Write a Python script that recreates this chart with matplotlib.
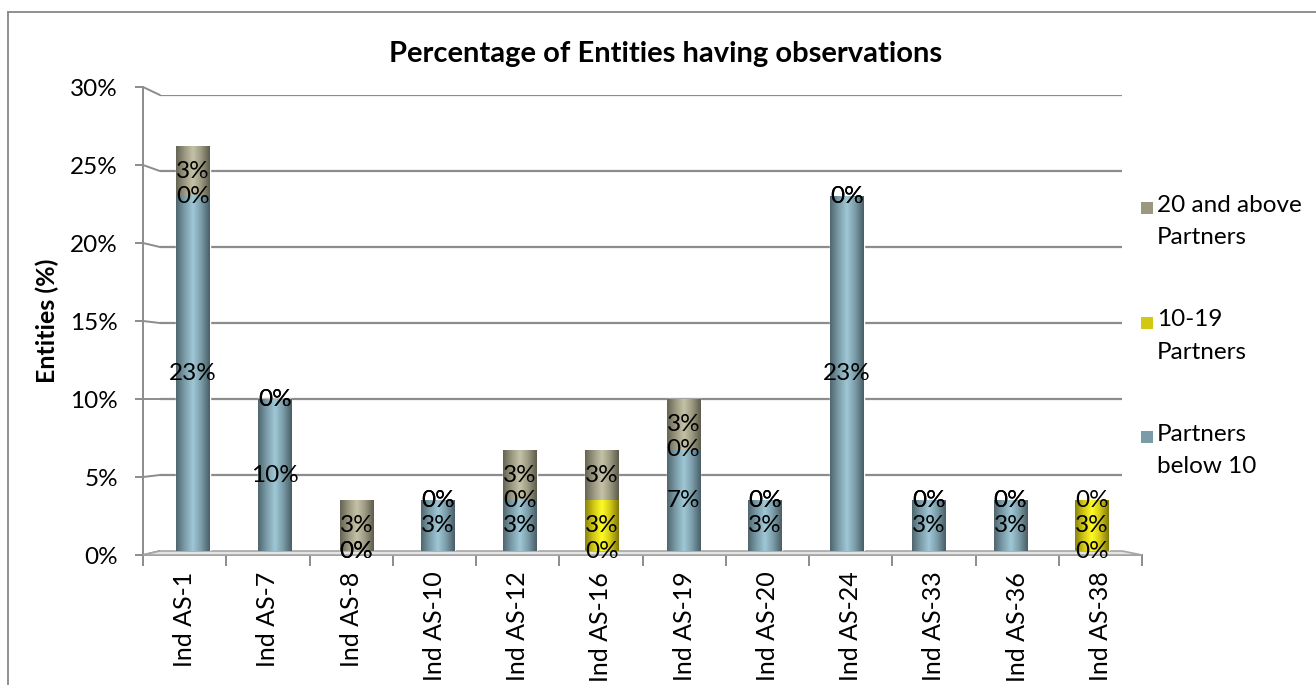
import numpy as np
import matplotlib.pyplot as plt
from matplotlib.colors import LinearSegmentedColormap, to_rgb
from matplotlib.patches import Polygon, Rectangle, ConnectionPatch
from matplotlib.lines import Line2D

plt.rcParams["font.family"] = ["Lato", "DejaVu Sans"]

standards = ["Ind AS-1", "Ind AS-7", "Ind AS-8", "Ind AS-10", "Ind AS-12", "Ind AS-16",
             "Ind AS-19", "Ind AS-20", "Ind AS-24", "Ind AS-33", "Ind AS-36", "Ind AS-38"]
# share of entities (%) with observations, split by firm size
below_10 = [23.33, 10.0, 0.0, 3.33, 3.33, 0.0, 6.67, 3.33, 23.33, 3.33, 3.33, 0.0]
p10_19 = [0.0, 0.0, 0.0, 0.0, 0.0, 3.33, 0.0, 0.0, 0.0, 0.0, 0.0, 3.33]
p20_up = [3.33, 0.0, 3.33, 0.0, 3.33, 3.33, 3.33, 0.0, 0.0, 0.0, 0.0, 0.0]
series = [("Partners\nbelow 10", below_10, "#7a9ca8"),
          ("10-19\nPartners", p10_19, "#d2c814"),
          ("20 and above\nPartners", p20_up, "#9a9880")]
yticks = [0, 5, 10, 15, 20, 25, 30]

FS = 17.5
W, H = 1316, 685
fig = plt.figure(figsize=(W / 100, H / 100), dpi=100)


def box(x0, y0, x1, y1):
    # pixel box (top-left origin) -> figure fraction rect
    return [x0 / W, 1 - y1 / H, (x1 - x0) / W, (y1 - y0) / H]


# front axis (tick labels, floor edge, category ticks)
front = fig.add_axes(box(143, 87, 1142, 555), zorder=1)
front.set_xlim(-0.5, len(standards) - 0.5)
front.set_ylim(0, 30)
front.patch.set_visible(False)
for s in ["top", "right"]:
    front.spines[s].set_visible(False)
for s in ["left", "bottom"]:
    front.spines[s].set_color("#8c8c8c")
    front.spines[s].set_linewidth(1.4)
front.set_yticks(yticks)
front.set_yticklabels([f"{v}%" for v in yticks], fontsize=FS)
front.tick_params(axis="y", length=6, width=1.4, color="#8c8c8c", pad=12)
front.set_xticks(np.arange(len(standards) + 1) - 0.5)
front.set_xticklabels([])
front.set_xticks(np.arange(len(standards)), minor=True)
front.set_xticklabels(standards, minor=True, rotation=90, fontsize=18)
front.tick_params(axis="x", which="major", length=8, width=1.4, color="#8c8c8c", direction="out")
front.tick_params(axis="x", which="minor", length=0, pad=12)
front.set_ylabel("Entities (%)", fontsize=18, fontweight="bold", labelpad=8)

# back wall with gridlines and the bars
ax = fig.add_axes(box(152, 95, 1133, 551), zorder=2)
ax.set_xlim(-0.5, len(standards) - 0.5)
ax.set_ylim(0, 30)
ax.axis("off")
gx0, gx1 = 0.008, 0.989
ax.hlines(yticks[1:], gx0, gx1, transform=ax.get_yaxis_transform(),
          color="#8c8c8c", lw=1.6, zorder=0)

# floor
corners = [front.transData.transform((-0.5, 0)), front.transData.transform((len(standards) - 0.5, 0)),
           ax.get_yaxis_transform().transform((gx1, 0)), ax.get_yaxis_transform().transform((gx0, 0))]
floor = Polygon(fig.transFigure.inverted().transform(corners), closed=True,
                transform=fig.transFigure, facecolor="#e4e4e4", edgecolor="#a6a6a6", lw=1.2, zorder=1.5)
fig.add_artist(floor)

# diagonal links from the front axis ticks to the back gridlines
for v in yticks:
    con = ConnectionPatch(xyA=(0, v), coordsA=front.get_yaxis_transform(),
                          xyB=(gx0, v), coordsB=ax.get_yaxis_transform(),
                          color="#8c8c8c", lw=1.4)
    fig.add_artist(con)


def cylinder_cmap(color):
    c = np.array(to_rgb(color))
    dark = c * 0.66
    light = np.clip(c * 1.18 + 0.06, 0, 1)
    return LinearSegmentedColormap.from_list("cyl", [dark, c, light, c, dark * 0.92])


x = np.arange(len(standards))
width = 0.41
bottom = np.zeros(len(standards))
grad = np.linspace(0, 1, 64).reshape(1, -1)
for name, vals, color in series:
    vals = np.array(vals)
    bars = ax.bar(x, vals, width, bottom=bottom, color=color, edgecolor="white", lw=1.0, zorder=3)
    cmap = cylinder_cmap(color)
    for rect in bars:
        if rect.get_height() <= 0:
            continue
        x0, y0 = rect.get_x(), rect.get_y()
        im = ax.imshow(grad, cmap=cmap, aspect="auto", zorder=3.5,
                       extent=(x0, x0 + rect.get_width(), y0, y0 + rect.get_height()))
        im.set_clip_path(rect)
    for xi, b, v in zip(x, bottom, vals):
        ax.text(xi, b + v / 2, f"{v:.0f}%", ha="center", va="center", fontsize=FS, zorder=5)
    bottom = bottom + vals
ax.set_xlim(-0.5, len(standards) - 0.5)
ax.set_ylim(0, 30)

# legend, top entry first
for i, (name, vals, color) in enumerate(series[::-1]):
    ty = 208 + i * 114.5
    fig.add_artist(Rectangle(((1141) / W, 1 - (ty + 6) / H), 12 / W, 12 / H,
                             transform=fig.transFigure, facecolor=color, edgecolor="none"))
    fig.text(1157 / W, 1 - (ty - 13) / H, name, ha="left", va="top", fontsize=FS, linespacing=1.65)

fig.suptitle("Percentage of Entities having observations", x=666 / W, y=1 - 54 / H,
             va="center", fontsize=21, fontweight="bold")

# chart frame
fig.add_artist(Line2D([8 / W, 8 / W], [0, 1 - 12 / H], transform=fig.transFigure, color="#888888", lw=1.3))
fig.add_artist(Line2D([8 / W, 1], [1 - 12 / H, 1 - 12 / H], transform=fig.transFigure, color="#888888", lw=1.3))

fig.savefig("out.png", dpi=100)
